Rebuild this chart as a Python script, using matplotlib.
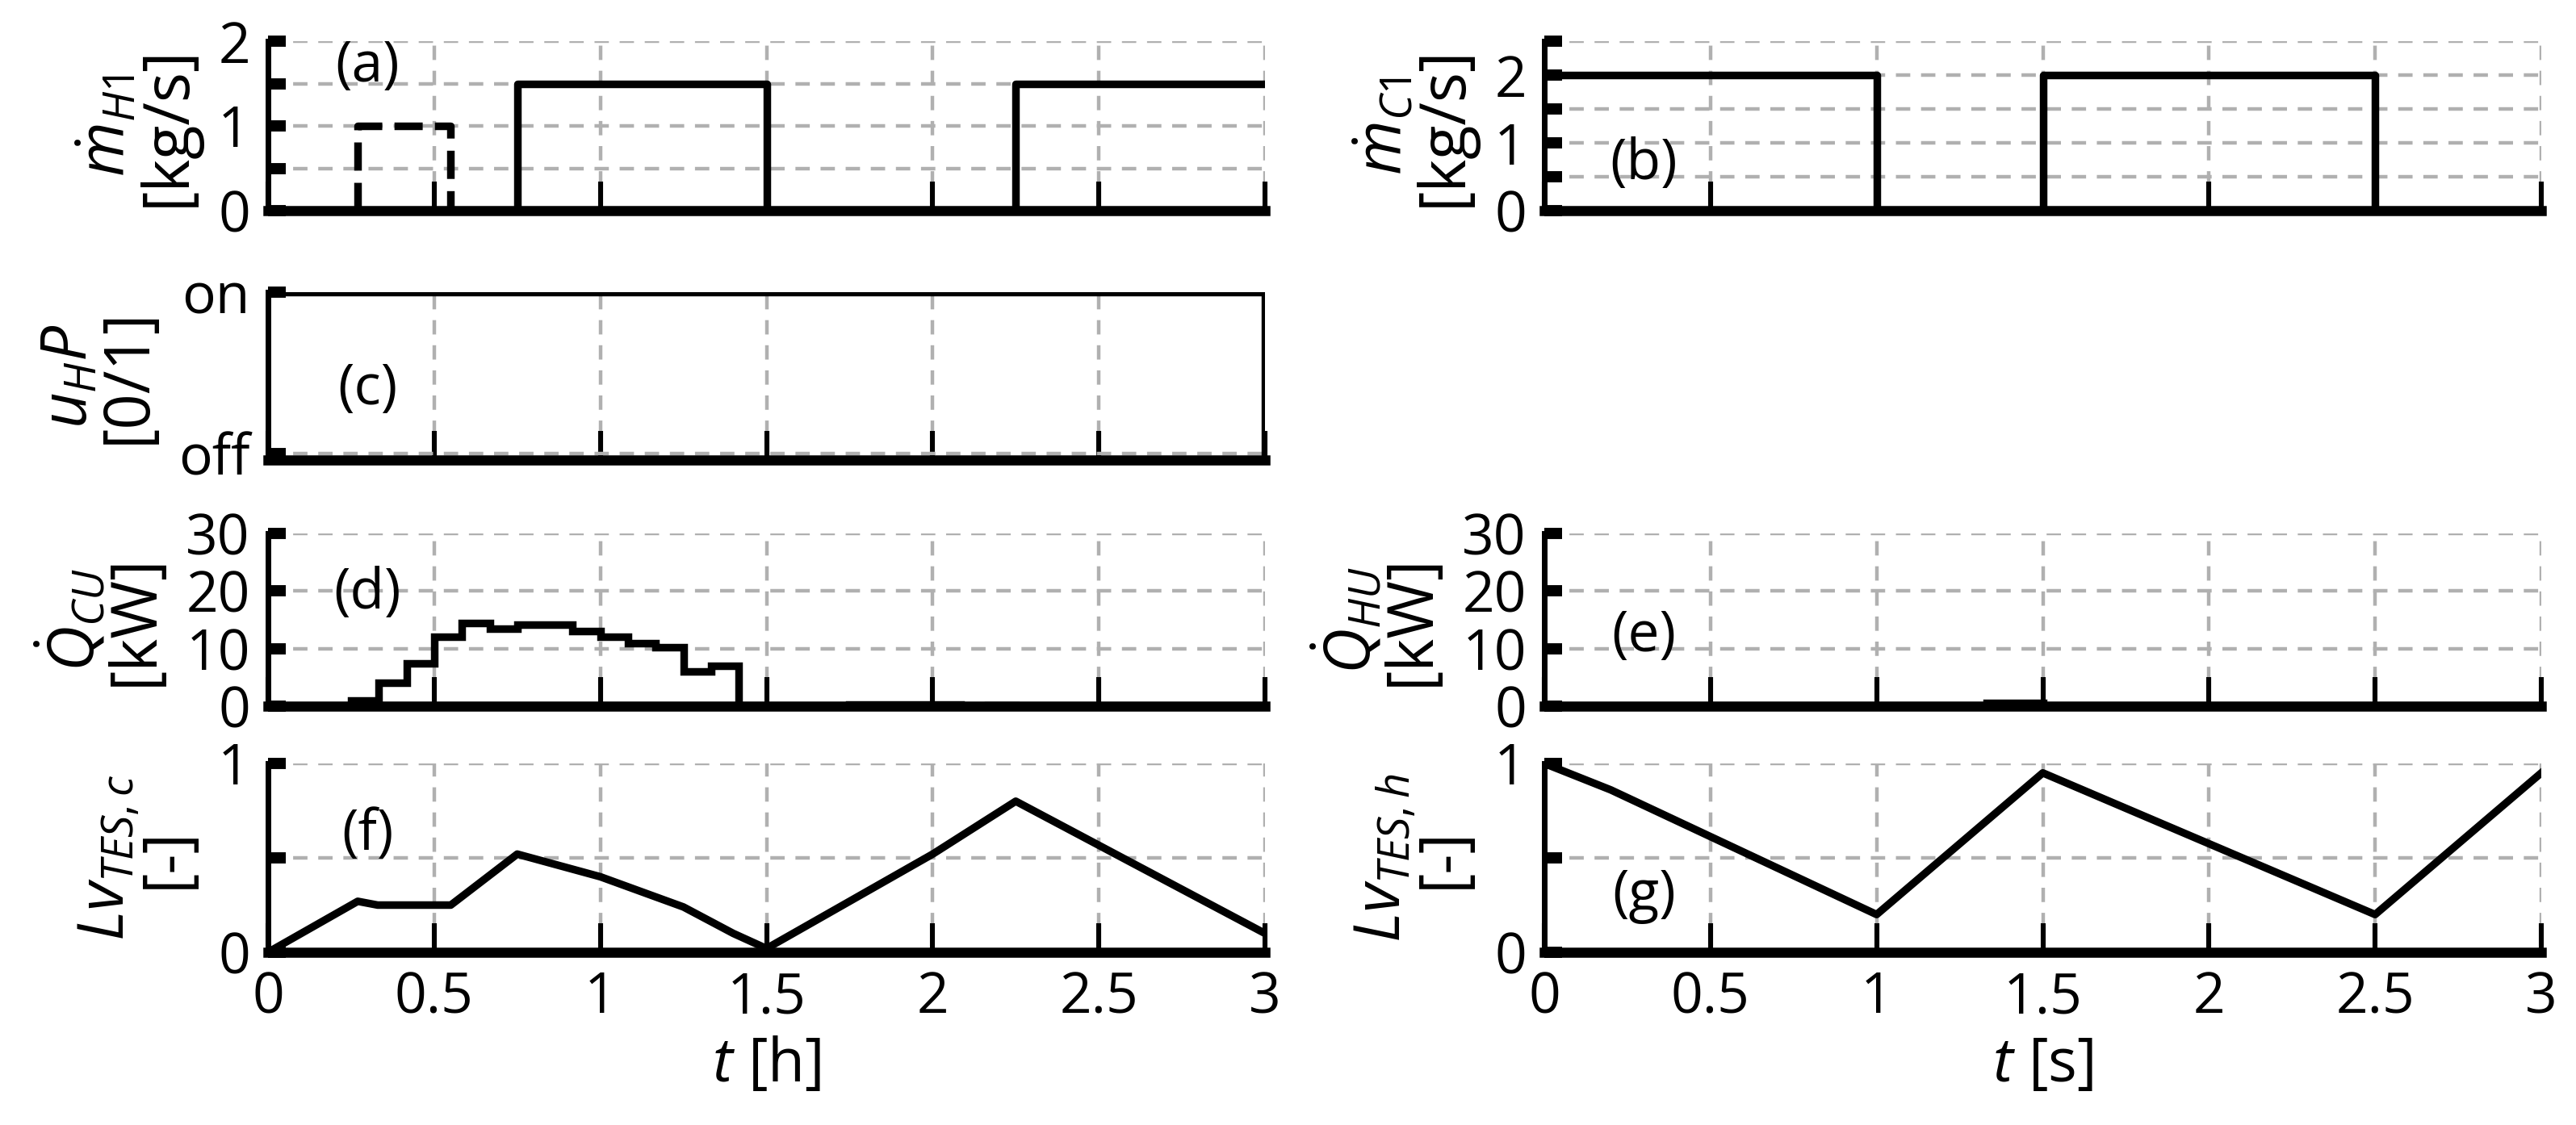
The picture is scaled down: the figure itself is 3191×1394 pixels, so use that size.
import matplotlib
matplotlib.use("Agg")
import matplotlib.pyplot as plt
import numpy as np

plt.rcParams['font.family'] = ['Open Sans', 'DejaVu Sans']
plt.rcParams['mathtext.fontset'] = 'custom'
plt.rcParams['mathtext.it'] = 'Open Sans:italic'
plt.rcParams['mathtext.rm'] = 'Open Sans'

# data
a_dash_t = [0.27, 0.27, 0.55, 0.55]; a_dash_v = [0, 1, 1, 0]
a_t = [0, 0.75, 0.75, 1.5, 1.5, 2.25, 2.25, 3.0]
a_v = [0, 0, 1.5, 1.5, 0, 0, 1.5, 1.5]
b_t = [0, 1.0, 1.0, 1.5, 1.5, 2.5, 2.5, 3.0]
b_v = [2, 2, 0, 0, 2, 2, 0, 0]
c_t = [0, 3.0]; c_v = [1, 1]
d_edges = [0, 0.25, 0.333, 0.417, 0.5, 0.583, 0.667, 0.75, 0.917, 1.0, 1.083, 1.167, 1.25, 1.333, 1.417, 1.75, 2.083, 2.167, 2.25, 3.0]
d_vals = [0, 1.0, 4.0, 7.5, 12.0, 14.5, 13.5, 14.2, 13.0, 12.0, 11.0, 10.3, 6.0, 7.0, 0, 0.3, 0, 0.2, 0]
e_edges = [0, 1.33, 1.5, 3.0]
e_vals = [0, 0.5, 0]
f_t = [0, 0.27, 0.33, 0.55, 0.75, 1.0, 1.25, 1.4, 1.5, 2.0, 2.25, 3.0]
f_v = [0, 0.27, 0.25, 0.25, 0.52, 0.40, 0.24, 0.10, 0.02, 0.52, 0.80, 0.10]
g_t = [0, 0.2, 1.0, 1.5, 2.5, 3.0]
g_v = [1.0, 0.86, 0.20, 0.95, 0.20, 0.95]

fig = plt.figure(figsize=(15.955, 6.97), dpi=200)
W, H = 3191, 1394
def ax_at(x0, y0, x1, y1):
    return fig.add_axes([x0 / W, 1 - y1 / H, (x1 - x0) / W, (y1 - y0) / H])

LX = (332, 1567); RX = (1913, 3148)
rows = [(51, 261), (362, 570), (661, 875), (946, 1180)]
FS = 25

def style(ax, ylim, yt, ylab, ylabel, letter, lpos, xlab=None):
    ax.set_xlim(0, 3)
    ax.set_ylim(*ylim)
    ax.set_xticks(np.arange(0, 3.01, 0.5))
    ax.set_yticks(yt)
    ax.set_yticklabels(ylab, fontsize=FS)
    if xlab is None:
        ax.set_xticklabels([])
    else:
        ax.set_xticklabels(['0', '0.5', '1', '1.5', '2', '2.5', '3'], fontsize=FS)
        ax.set_xlabel(xlab, fontsize=FS + 2)
    ax.tick_params(axis='x', direction='in', length=13, width=2.2, pad=8)
    ax.tick_params(axis='y', direction='in', length=8, width=5, pad=8)
    for s in ['top', 'right']:
        ax.spines[s].set_visible(False)
    ax.spines['bottom'].set_linewidth(4.5)
    ax.spines['left'].set_linewidth(2.5)
    ax.grid(True, linestyle=(0, (4, 3)), color='#b0b0b0', linewidth=1.6)
    ax.set_axisbelow(True)
    ax.set_ylabel(ylabel, fontsize=FS + 3, linespacing=0.9, labelpad=8)
    ax.text(lpos[0], lpos[1], letter, transform=ax.transAxes, fontsize=FS, ha='center', va='center')

LW = 3.4
ax = ax_at(LX[0], rows[0][0], LX[1], rows[0][1])
ax.plot(a_dash_t, a_dash_v, 'k--', lw=LW)
ax.plot(a_t, a_v, 'k-', lw=LW)
style(ax, (0, 2), [0, 0.5, 1, 1.5, 2], ['0', '', '1', '', '2'], r"$\dot{m}_{H1}$" + "\n[kg/s]", '(a)', (0.1, 0.85))

ax = ax_at(RX[0], rows[0][0], RX[1], rows[0][1])
ax.plot(b_t, b_v, 'k-', lw=LW)
style(ax, (0, 2.5), [0, 0.5, 1, 1.5, 2, 2.5], ['0', '', '1', '', '2', ''], r"$\dot{m}_{C1}$" + "\n[kg/s]", '(b)', (0.1, 0.27))

ax = ax_at(LX[0], rows[1][0], LX[1], rows[1][1])
ax.plot(c_t, c_v, 'k-', lw=LW)
style(ax, (-0.04, 1.0), [0, 1], ['off', 'on'], r"$u_H P$" + "\n[0/1]", '(c)', (0.1, 0.42))
ax.plot([3, 3], [-0.04, 1], 'k-', lw=LW)

ax = ax_at(LX[0], rows[2][0], LX[1], rows[2][1])
ax.stairs(d_vals, d_edges, color='k', lw=LW)
style(ax, (0, 30), [0, 10, 20, 30], ['0', '10', '20', '30'], r"$\dot{Q}_{CU}$" + "\n[kW]", '(d)', (0.1, 0.65))

ax = ax_at(RX[0], rows[2][0], RX[1], rows[2][1])
ax.stairs(e_vals, e_edges, color='k', lw=LW)
style(ax, (0, 30), [0, 10, 20, 30], ['0', '10', '20', '30'], r"$\dot{Q}_{HU}$" + "\n[kW]", '(e)', (0.1, 0.4))

ax = ax_at(LX[0], rows[3][0], LX[1], rows[3][1])
ax.plot(f_t, f_v, 'k-', lw=LW)
style(ax, (0, 1), [0, 0.5, 1], ['0', '', '1'], r"$Lv_{TES,c}$" + "\n[-]", '(f)', (0.1, 0.62), xlab=r"$t$ [h]")

ax = ax_at(RX[0], rows[3][0], RX[1], rows[3][1])
ax.plot(g_t, g_v, 'k-', lw=LW)
style(ax, (0, 1), [0, 0.5, 1], ['0', '', '1'], r"$Lv_{TES,h}$" + "\n[-]", '(g)', (0.1, 0.3), xlab=r"$t$ [s]")

fig.savefig('out.png', dpi=200)
